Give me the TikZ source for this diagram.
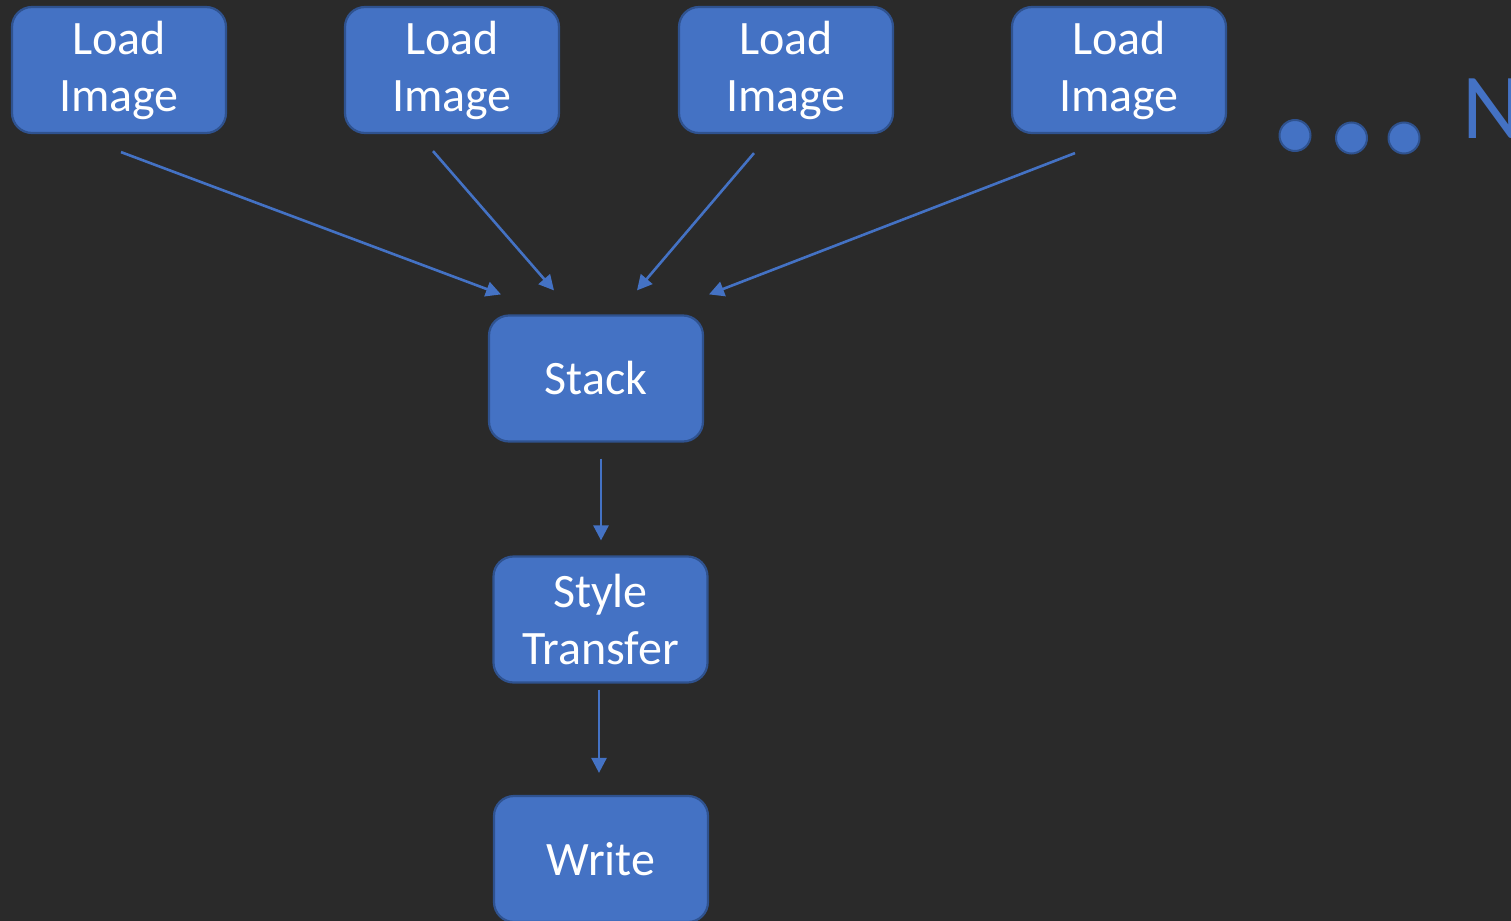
\documentclass[tikz,border=0pt]{standalone}
\usepackage{fontspec}
\setmainfont{Carlito}
\usetikzlibrary{arrows.meta,calc}
\definecolor{bg}{HTML}{2A2A2A}
\definecolor{boxfill}{HTML}{4472C4}
\definecolor{boxline}{HTML}{2F528F}
\begin{document}
\begin{tikzpicture}[x=0.5pt,y=-0.5pt,
  stepbox/.style={draw=boxline, line width=1.1pt, fill=boxfill, rounded corners=10pt,
    minimum width=107pt, minimum height=63pt, text=white, align=center,
    font=\fontsize{24}{28.5}\selectfont, inner sep=0pt},
  arr/.style={draw=boxfill, line width=1.3pt, -{Triangle[length=7.5pt,width=7.5pt]}},
  dot/.style={fill=boxfill, draw=boxline, line width=1pt}]
\fill[bg] (0,0) rectangle (1511,921);
\useasboundingbox (0,0) rectangle (1511,921);
\clip (0,0) rectangle (1511,921);

% image loaders
\node[stepbox] (L1) at (119,70) {Load\\Image};
\node[stepbox] (L2) at (452,70) {Load\\Image};
\node[stepbox] (L3) at (786,70) {Load\\Image};
\node[stepbox] (L4) at (1119,70) {Load\\Image};

% processing chain
\node[stepbox] (S) at (596,378.5) {Stack};
\node[stepbox] (T) at (600.5,619.5) {Style\\Transfer};
\node[stepbox] (W) at (601,859) {Write};

% ellipsis for further loaders
\draw[dot] (1295,135.5) circle[radius=15.5];
\draw[dot] (1351.5,138) circle[radius=15.5];
\draw[dot] (1404,138) circle[radius=15.5];
\node[font=\fontsize{46.5}{50}\selectfont, text=boxfill, anchor=base west, inner sep=0pt]
  (more) at (1462,138) {N};

% connector end points
\coordinate (s1) at ($(L1.south)+(2,18)$);
\coordinate (s2) at ($(L2.south)+(-19,17)$);
\coordinate (s3) at ($(L3.south)+(-32,19)$);
\coordinate (s4) at ($(L4.south)+(-44,19)$);
\coordinate (e1) at ($(S.north)+(-95,-20)$);
\coordinate (e2) at ($(S.north)+(-42,-24)$);
\coordinate (e3) at ($(S.north)+(41,-24)$);
\coordinate (e4) at ($(S.north)+(113,-20)$);
\coordinate (s5) at ($(S.south)+(5,16)$);
\coordinate (e5) at ($(T.north)+(0.5,-15)$);
\coordinate (s6) at ($(T.south)+(-1.5,6)$);
\coordinate (e6) at ($(W.north)+(-2,-22)$);

\draw[arr] (s1) -- (e1);
\draw[arr] (s2) -- (e2);
\draw[arr] (s3) -- (e3);
\draw[arr] (s4) -- (e4);
\draw[arr] (s5) -- (e5);
\draw[arr] (s6) -- (e6);
\end{tikzpicture}
\end{document}
